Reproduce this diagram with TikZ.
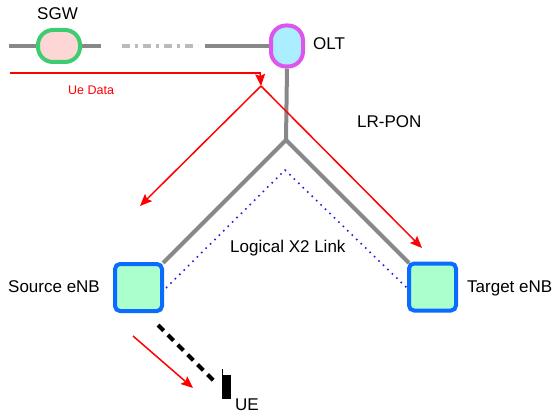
\documentclass[tikz,border=0pt]{standalone}
\usepackage{fontspec}
\setmainfont{Liberation Sans}
\usetikzlibrary{arrows.meta,backgrounds}
\definecolor{ponline}{HTML}{888888}
\definecolor{ponlight}{HTML}{BBBBBB}
\definecolor{sgwfill}{HTML}{FFD6D6}
\definecolor{sgwdraw}{HTML}{3DCC70}
\definecolor{oltfill}{HTML}{AAEEFF}
\definecolor{oltdraw}{HTML}{DD55EE}
\definecolor{enbfill}{HTML}{AAFFCC}
\definecolor{enbdraw}{HTML}{0A6CFF}
\definecolor{xlink}{HTML}{2222DD}
\begin{document}
\begin{tikzpicture}[x=1pt,y=-1pt,
  lbl/.style={inner sep=0pt,anchor=base west,font=\fontsize{17}{20}\selectfont},
  smalllbl/.style={inner sep=0pt,anchor=base west,text=red,font=\fontsize{12.5}{15}\selectfont},
  ponl/.style={draw=ponline,line width=4pt},
  pondash/.style={draw=ponlight,line width=4pt,dash pattern=on 8pt off 5pt on 3pt off 5pt},
  sgwbox/.style={draw=sgwdraw,fill=sgwfill,line width=4pt,minimum width=42pt,minimum height=32pt,rounded corners=15pt,inner sep=0pt},
  oltbox/.style={draw=oltdraw,fill=oltfill,line width=4pt,minimum width=32pt,minimum height=41pt,rounded corners=15pt,inner sep=0pt},
  enbbox/.style={draw=enbdraw,fill=enbfill,line width=4pt,minimum width=47pt,minimum height=47pt,rounded corners=5pt,inner sep=0pt},
  redl/.style={draw=red,line width=1.5pt},
  redarrow/.style={draw=red,line width=1.5pt,-{Stealth[length=12pt,width=10pt,inset=2pt]}},
  x2/.style={draw=xlink,line width=1.6pt,dash pattern=on 1.6pt off 4.6pt},
  radiol/.style={draw=black,line width=4pt,dash pattern=on 8pt off 6pt}
]
\useasboundingbox (0,0) rectangle (556,417);

% coordinates
\coordinate (pleft) at (9,46);
\coordinate (pmid1) at (101,46);
\coordinate (pdash1) at (122,46);
\coordinate (pdash2) at (198,46);
\coordinate (pmid2) at (205,46);
\coordinate (split) at (286,140);
\coordinate (srcc) at (163,263);
\coordinate (tgtc) at (409,263);
\coordinate (x2a) at (166,288);
\coordinate (x2top) at (285,170);
\coordinate (x2b) at (407,288);

% nodes
\node[sgwbox] (sgw) at (59,46) {};
\node[oltbox] (olt) at (287,46) {};
\node[enbbox] (src) at (138.5,287.5) {};
\node[enbbox] (tgt) at (432.5,287) {};

% PON lines (behind the nodes)
\begin{scope}[on background layer]
\draw[ponl] (pleft) -- (sgw.west);
\draw[ponl] (sgw.east) -- (pmid1);
\draw[pondash] (pdash1) -- (pdash2);
\draw[ponl] (pmid2) -- (olt.west);
\draw[ponl] (olt.south) -- (split);
\draw[ponl] (split) -- (srcc);
\draw[ponl] (split) -- (tgtc);
\end{scope}

% logical X2 link
\draw[x2] (x2a) -- (x2top) -- (x2b);

% UE data path
\coordinate (uestart) at (10,73);
\coordinate (corner) at (260,73);
\coordinate (fork) at (261,86);
\coordinate (lefttip) at (140,206);
\coordinate (righttip) at (422,248);
\draw[redl] (uestart) -- (corner);
\draw[redarrow] (260,72.25) -- (fork);
\draw[redarrow] (fork) -- (lefttip);
\draw[redarrow] (fork) -- (righttip);

% UE
\node[fill=black,minimum width=9pt,minimum height=24pt,inner sep=0pt] (ue) at (226.5,387) {};
\draw[line width=1pt] (222,369) -- (222,376);
\coordinate (radstart) at (158,325);
\coordinate (radend) at (215,382);
\draw[radiol] (radstart) -- (radend);
\coordinate (ra1) at (133,336);
\coordinate (ra2) at (193,388);
\draw[redarrow] (ra1) -- (ra2);

% labels
\node[lbl] (sgwl) at (37,20) {SGW};
\node[lbl] (oltl) at (313,49.5) {OLT};
\node[lbl] (ponl) at (357,128) {LR-PON};
\node[lbl] (x2l) at (230,252) {Logical X2 Link};
\node[lbl] (srcl) at (8,292) {Source eNB};
\node[lbl] (tgtl) at (467,292) {Target eNB};
\node[smalllbl] (uedl) at (68,94.5) {Ue Data};
\node[lbl] (uel) at (235,410.5) {UE};
\end{tikzpicture}
\end{document}
